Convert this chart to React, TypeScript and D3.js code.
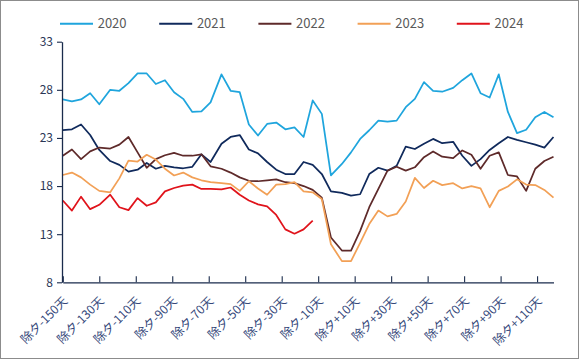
import { useEffect, useRef } from 'react';
import * as d3 from 'd3';

// days relative to Chinese New Year (除夕) at which the values were read
const days = [
  -150, -145, -140, -135, -130, -124, -119, -114, -109, -104, -99, -94, -89, -84, -79, -74, -69, -63,
  -58, -53, -48, -43, -38, -33, -28, -23, -18, -13, -8, -3, 3, 8, 13, 18, 23, 28, 33, 38, 43, 48, 53,
  58, 64, 69, 74, 79, 84, 89, 94, 99, 104, 109, 114, 119,
];

const values2020 = [
  27.0, 26.8, 27.0, 27.65, 26.5, 28.0, 27.9, 28.7, 29.7, 29.7, 28.6, 29.0, 27.75, 27.06, 25.7, 25.75,
  26.7, 29.6, 27.9, 27.75, 24.4, 23.25, 24.45, 24.6, 23.9, 24.1, 23.1, 26.9, 25.5, 19.1, 20.3, 21.5,
  22.9, 23.8, 24.8, 24.7, 24.8, 26.2, 27.06, 28.8, 27.9, 27.8, 28.2, 29.0, 29.7, 27.65, 27.2, 29.6,
  25.7, 23.5, 23.85, 25.15, 25.7, 25.15,
];

const values2021 = [
  23.8, 23.9, 24.4, 23.3, 21.75, 20.6, 20.2, 19.5, 19.7, 20.4, 19.8, 20.1, 19.95, 19.85, 20.0, 21.3,
  20.5, 22.4, 23.1, 23.3, 21.8, 21.4, 20.5, 19.7, 19.25, 19.25, 20.5, 20.2, 19.25, 17.45, 17.3, 17.0,
  17.15, 19.25, 19.9, 19.6, 20.1, 22.1, 21.85, 22.4, 22.9, 22.45, 22.6, 21.15, 20.1, 20.8, 21.75,
  22.45, 23.1, 22.8, 22.55, 22.3, 22.0, 23.1,
];

const values2022 = [
  21.15, 21.8, 20.8, 21.6, 22.0, 21.9, 22.3, 23.1, 21.5, 19.9, 20.8, 21.2, 21.45, 21.15, 21.15, 21.3,
  20.05, 19.8, 19.4, 18.9, 18.55, 18.5, 18.6, 18.7, 18.4, 18.3, 18.0, 17.6, 16.8, 12.65, 11.3, 11.3,
  13.35, 15.8, 17.7, 19.6, 20.0, 19.6, 19.95, 21.0, 21.6, 21.05, 20.9, 21.7, 21.25, 19.8, 21.15, 21.5,
  19.15, 19.0, 17.5, 19.8, 20.6, 21.05,
];

const values2023 = [
  19.15, 19.4, 18.9, 18.15, 17.5, 17.35, 18.8, 20.65, 20.55, 21.25, 20.75, 19.8, 19.1, 19.4, 18.9,
  18.6, 18.4, 18.3, 18.2, 17.5, 18.5, 17.75, 17.1, 18.15, 18.2, 18.4, 17.45, 17.35, 16.65, 11.95, 10.2,
  10.2, 12.1, 14.05, 15.45, 14.85, 15.1, 16.4, 18.85, 17.8, 18.55, 18.1, 18.3, 17.75, 18.0, 17.75, 15.8,
  17.5, 17.95, 18.7, 18.15, 18.1, 17.6, 16.8,
];

// 2024 stops before the holiday
const values2024 = [
  16.5, 15.45, 16.9, 15.6, 16.05, 17.1, 15.8, 15.5, 16.75, 15.95, 16.3, 17.45, 17.8, 18.05, 18.15,
  17.7, 17.7, 17.65, 17.85, 17.1, 16.5, 16.1, 15.9, 15.0, 13.5, 13.05, 13.5, 14.4,
];

const seriesNames = ['2020', '2021', '2022', '2023', '2024'];
const seriesValues = [values2020, values2021, values2022, values2023, values2024];
const seriesColors = ['#1fa5dd', '#102a5c', '#5e2a2a', '#f2a056', '#e0131b'];

const yTicks = [8, 13, 18, 23, 28, 33];
const xTickDays = [-150, -130, -110, -90, -70, -50, -30, -10, 10, 30, 50, 70, 90, 110];
const xTickLabels = [
  '除夕-150天', '除夕-130天', '除夕-110天', '除夕-90天', '除夕-70天', '除夕-50天', '除夕-30天',
  '除夕-10天', '除夕+10天', '除夕+30天', '除夕+50天', '除夕+70天', '除夕+90天', '除夕+110天',
];

const FONT = '"Noto Sans CJK SC", "Noto Sans", sans-serif';
const AXIS_COLOR = '#1a2b4c';

export default function App() {
  const svgRef = useRef<SVGSVGElement>(null);

  useEffect(() => {
    if (!svgRef.current) return;
    const svg = d3.select(svgRef.current);
    svg.selectAll('*').remove();

    const width = 579;
    const height = 359;

    const x = d3.scaleLinear().domain([-150, 119]).range([62.8, 553.5]);
    const y = d3.scaleLinear().domain([8, 33]).range([282.3, 41.7]);

    svg.attr('width', width).attr('height', height);

    svg
      .append('rect')
      .attr('x', 0.5)
      .attr('y', 0.5)
      .attr('width', width - 1)
      .attr('height', height - 1)
      .attr('fill', '#ffffff')
      .attr('stroke', '#8c8c8c');

    // Lines
    const line = d3
      .line<{ day: number; value: number }>()
      .x((d) => x(d.day))
      .y((d) => y(d.value));

    seriesValues.forEach((vals, i) => {
      const pts = vals.map((v, j) => ({ day: days[j], value: v }));
      svg
        .append('path')
        .datum(pts)
        .attr('fill', 'none')
        .attr('stroke', seriesColors[i])
        .attr('stroke-width', 1.75)
        .attr('stroke-linejoin', 'round')
        .attr('d', line);
    });

    // Y axis
    const yAxis = svg
      .append('g')
      .attr('transform', `translate(${x(-150) - 0.8},0)`)
      .call(d3.axisLeft(y).tickValues(yTicks).tickSize(5).tickSizeOuter(0).tickPadding(4));
    yAxis.select('.domain').attr('stroke', AXIS_COLOR).attr('stroke-width', 1.3);
    yAxis.selectAll('.tick line').attr('stroke', AXIS_COLOR).attr('stroke-width', 1.1);
    yAxis
      .selectAll('text')
      .attr('fill', '#2b3656')
      .style('font-family', FONT)
      .style('font-size', '12px');

    // X axis (ticks point up into the plot)
    const xAxis = svg
      .append('g')
      .attr('transform', `translate(0,${y(8)})`)
      .call(d3.axisBottom(x).tickValues(xTickDays).tickSize(-6).tickSizeOuter(0).tickFormat(() => ''));
    xAxis.select('.domain').attr('stroke', AXIS_COLOR).attr('stroke-width', 1.3);
    xAxis.selectAll('.tick line').attr('stroke', AXIS_COLOR).attr('stroke-width', 1.1);

    svg
      .append('g')
      .selectAll('text')
      .data(xTickDays)
      .enter()
      .append('text')
      .attr('transform', (d) => `translate(${x(d) + 5.5},${y(8) + 19.5}) rotate(-45)`)
      .attr('text-anchor', 'end')
      .attr('fill', '#34477a')
      .style('font-family', FONT)
      .style('font-size', '12px')
      .text((d, i) => xTickLabels[i]);

    // Legend
    const legend = svg.append('g');
    seriesNames.forEach((name, i) => {
      const lx = 60 + i * 99.2;
      legend
        .append('line')
        .attr('x1', lx)
        .attr('x2', lx + 33)
        .attr('y1', 23.7)
        .attr('y2', 23.7)
        .attr('stroke', seriesColors[i])
        .attr('stroke-width', 2);
      legend
        .append('text')
        .attr('x', lx + 37.7)
        .attr('y', 28)
        .attr('fill', '#595959')
        .style('font-family', FONT)
        .style('font-size', '13px')
        .text(name);
    });
  }, []);

  return (
    <svg
      ref={svgRef}
      style={{ position: 'absolute', left: 0, top: 0, display: 'block', background: '#fff' }}
    ></svg>
  );
}
